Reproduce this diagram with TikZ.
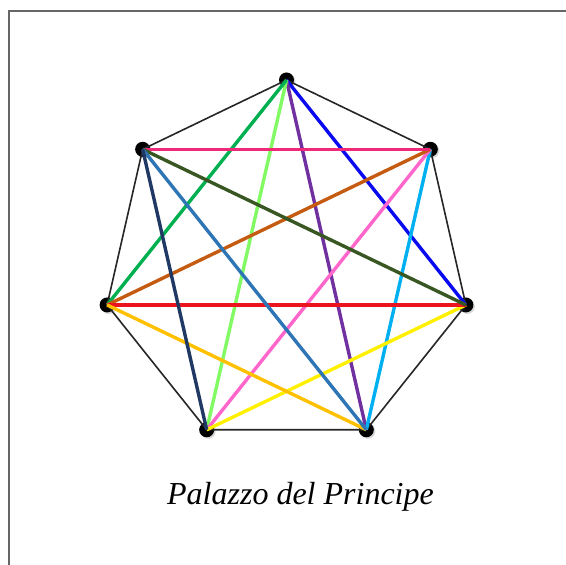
\documentclass[tikz,border=0pt]{standalone}
\usepackage{xcolor}
\usepackage{fontspec}
\setmainfont{Liberation Serif}
\usepackage{tikz}
\usetikzlibrary{positioning, shadows}

\definecolor{diagblue}{RGB}{10,10,240}
\definecolor{diagpurple}{RGB}{112,48,160}
\definecolor{diaglime}{RGB}{130,250,100}
\definecolor{diaggreen}{RGB}{0,176,80}
\definecolor{diagcyan}{RGB}{0,176,240}
\definecolor{diagpink}{RGB}{255,102,204}
\definecolor{diagbrown}{RGB}{197,90,17}
\definecolor{diagrose}{RGB}{240,40,120}
\definecolor{diagyellow}{RGB}{255,240,0}
\definecolor{diagred}{RGB}{235,20,30}
\definecolor{diagolive}{RGB}{56,87,35}
\definecolor{diagamber}{RGB}{255,192,0}
\definecolor{diagsteel}{RGB}{46,117,182}
\definecolor{diagnavy}{RGB}{31,56,100}

\begin{document}
\begin{tikzpicture}[
    x=1pt, y=1pt,
    vertex/.style={circle, fill=black, minimum size=15pt, inner sep=0pt,
        drop shadow={shadow xshift=1.5pt, shadow yshift=-1.5pt, fill=black!30}},
    side/.style={line width=1.6pt, black!85},
    diag/.style={line width=3.4pt},
    frame/.style={line width=1.6pt, black!60},
    title/.style={font=\fontsize{32}{36}\selectfont\itshape, anchor=base}
]
\useasboundingbox (0,0) rectangle (566,565);

% Frame
\draw[frame] (9,0) |- (566,554);

% Nodes
\coordinate (c) at (286.5,301);
\node[vertex] (top) at ([shift={(90:184)}]c) {};
\node[vertex] (ne) at ([shift={(38.57:184)}]c) {};
\node[vertex] (east) at ([shift={(-12.86:184)}]c) {};
\node[vertex] (se) at ([shift={(-64.29:184)}]c) {};
\node[vertex] (sw) at ([shift={(-115.71:184)}]c) {};
\node[vertex] (west) at ([shift={(-167.14:184)}]c) {};
\node[vertex] (nw) at ([shift={(141.43:184)}]c) {};

\node[title] (name) at (300.5,60) {Palazzo del Principe};

% Sides
\draw[side] (top.center) -- (ne.center) -- (east.center) -- (se.center)
    -- (sw.center) -- (west.center) -- (nw.center) -- (top.center);

% Diagonals
\draw[diag, diagblue] (top.center) -- (east.center);
\draw[diag, diagpurple] (top.center) -- (se.center);
\draw[diag, diaglime] (top.center) -- (sw.center);
\draw[diag, diaggreen] (top.center) -- (west.center);
\draw[diag, diagcyan] (ne.center) -- (se.center);
\draw[diag, diagpink] (ne.center) -- (sw.center);
\draw[diag, diagbrown] (ne.center) -- (west.center);
\draw[diag, diagrose] (ne.center) -- (nw.center);
\draw[diag, diagyellow] (east.center) -- (sw.center);
\draw[diag, diagred] (east.center) -- (west.center);
\draw[diag, diagolive] (east.center) -- (nw.center);
\draw[diag, diagamber] (se.center) -- (west.center);
\draw[diag, diagsteel] (se.center) -- (nw.center);
\draw[diag, diagnavy] (sw.center) -- (nw.center);

\end{tikzpicture}
\end{document}
